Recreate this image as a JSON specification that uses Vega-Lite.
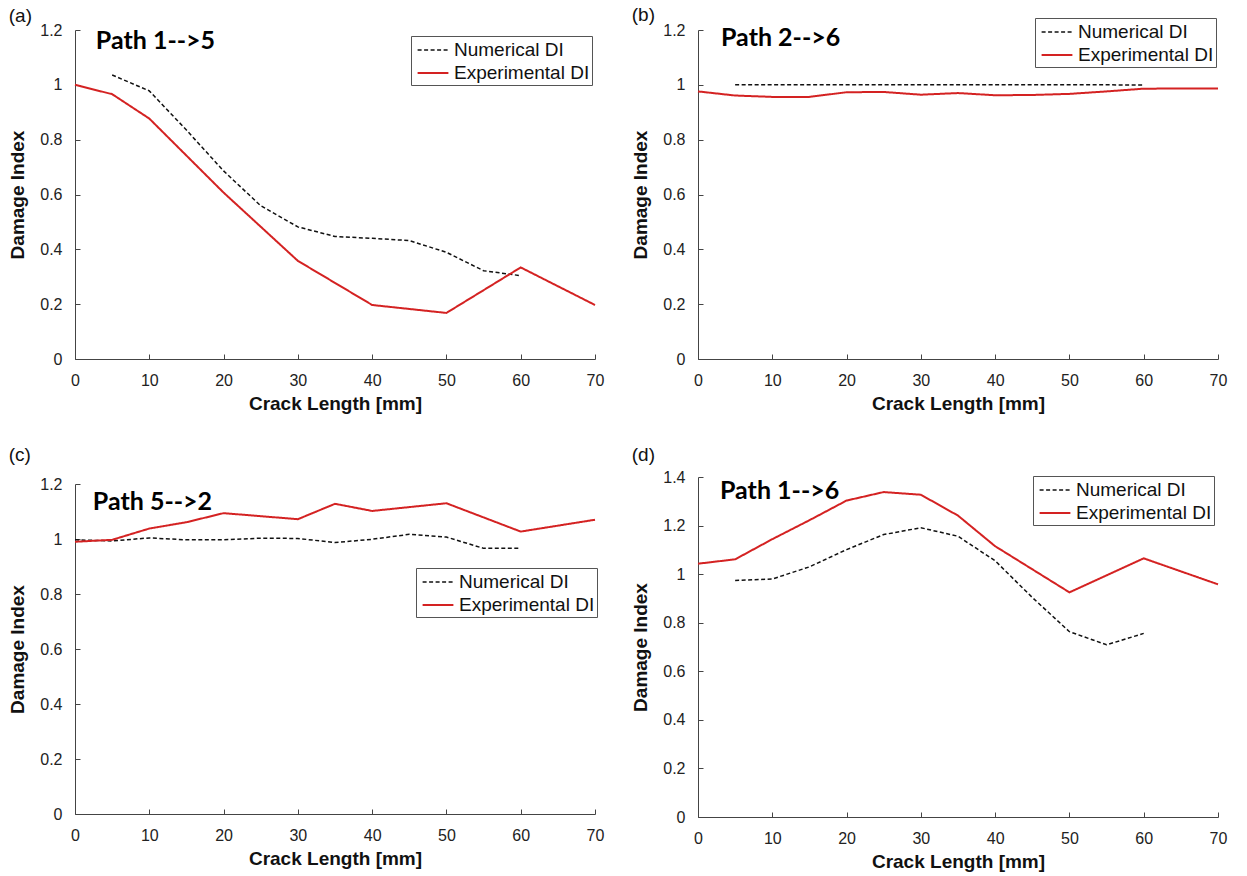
{
  "$schema": "https://vega.github.io/schema/vega-lite/v6.json",
  "padding": {"left": 8, "top": 5, "right": 5, "bottom": 3},
  "background": "white",
  "config": {
    "view": {"stroke": null},
    "axis": {
      "grid": false,
      "domainColor": "#444",
      "tickColor": "#444",
      "labelColor": "#222",
      "labelFont": "Liberation Sans",
      "labelFontSize": 16,
      "titleFont": "Liberation Sans",
      "titleFontWeight": "bold",
      "titleColor": "#111",
      "tickSize": -5,
      "labelFlush": false
    },
    "axisX": {"labelPadding": 18, "titlePadding": 6, "titleFontSize": 19},
    "axisY": {"labelPadding": 18, "titlePadding": 12, "titleFontSize": 19},
    "legend": {
      "symbolType": "M-1.4,0H1.4",
      "symbolSize": 484,
      "symbolOffset": 8,
      "symbolStrokeWidth": 1.6,
      "labelFont": "Liberation Sans",
      "labelFontSize": 19,
      "labelColor": "#111",
      "labelOffset": 9,
      "rowPadding": 1,
      "padding": 2,
      "strokeColor": "#555",
      "fillColor": "white",
      "title": null,
      "labelLimit": 300
    },
    "title": {"font": "Liberation Sans", "fontSize": 19, "fontWeight": "normal", "color": "#111", "anchor": "start", "frame": "bounds"}
  },
  "datasets": {
    "a": [
      {"series": "Numerical DI", "x": 5, "y": 1.036},
      {"series": "Numerical DI", "x": 10, "y": 0.978},
      {"series": "Numerical DI", "x": 15, "y": 0.835},
      {"series": "Numerical DI", "x": 20, "y": 0.686},
      {"series": "Numerical DI", "x": 25, "y": 0.559},
      {"series": "Numerical DI", "x": 30, "y": 0.482},
      {"series": "Numerical DI", "x": 35, "y": 0.447},
      {"series": "Numerical DI", "x": 40, "y": 0.44},
      {"series": "Numerical DI", "x": 45, "y": 0.432},
      {"series": "Numerical DI", "x": 50, "y": 0.389},
      {"series": "Numerical DI", "x": 55, "y": 0.322},
      {"series": "Numerical DI", "x": 60, "y": 0.304},
      {"series": "Experimental DI", "x": 0, "y": 1.0},
      {"series": "Experimental DI", "x": 5, "y": 0.966},
      {"series": "Experimental DI", "x": 10, "y": 0.877},
      {"series": "Experimental DI", "x": 20, "y": 0.607},
      {"series": "Experimental DI", "x": 30, "y": 0.358},
      {"series": "Experimental DI", "x": 40, "y": 0.197},
      {"series": "Experimental DI", "x": 50, "y": 0.168},
      {"series": "Experimental DI", "x": 60, "y": 0.334},
      {"series": "Experimental DI", "x": 70, "y": 0.197}
    ],
    "b": [
      {"series": "Numerical DI", "x": 5, "y": 1.0},
      {"series": "Numerical DI", "x": 10, "y": 1.0},
      {"series": "Numerical DI", "x": 15, "y": 1.0},
      {"series": "Numerical DI", "x": 20, "y": 1.0},
      {"series": "Numerical DI", "x": 25, "y": 1.0},
      {"series": "Numerical DI", "x": 30, "y": 1.0},
      {"series": "Numerical DI", "x": 35, "y": 1.0},
      {"series": "Numerical DI", "x": 40, "y": 1.0},
      {"series": "Numerical DI", "x": 45, "y": 1.0},
      {"series": "Numerical DI", "x": 50, "y": 1.0},
      {"series": "Numerical DI", "x": 55, "y": 1.0},
      {"series": "Numerical DI", "x": 60, "y": 0.999},
      {"series": "Experimental DI", "x": 0, "y": 0.976},
      {"series": "Experimental DI", "x": 5, "y": 0.961},
      {"series": "Experimental DI", "x": 10, "y": 0.956},
      {"series": "Experimental DI", "x": 15, "y": 0.956},
      {"series": "Experimental DI", "x": 20, "y": 0.973},
      {"series": "Experimental DI", "x": 25, "y": 0.974},
      {"series": "Experimental DI", "x": 30, "y": 0.964},
      {"series": "Experimental DI", "x": 35, "y": 0.97},
      {"series": "Experimental DI", "x": 40, "y": 0.962},
      {"series": "Experimental DI", "x": 45, "y": 0.963},
      {"series": "Experimental DI", "x": 50, "y": 0.967},
      {"series": "Experimental DI", "x": 55, "y": 0.976},
      {"series": "Experimental DI", "x": 60, "y": 0.986},
      {"series": "Experimental DI", "x": 70, "y": 0.987}
    ],
    "c": [
      {"series": "Numerical DI", "x": 0, "y": 0.997},
      {"series": "Numerical DI", "x": 5, "y": 0.993},
      {"series": "Numerical DI", "x": 10, "y": 1.004},
      {"series": "Numerical DI", "x": 15, "y": 0.997},
      {"series": "Numerical DI", "x": 20, "y": 0.997},
      {"series": "Numerical DI", "x": 25, "y": 1.003},
      {"series": "Numerical DI", "x": 30, "y": 1.002},
      {"series": "Numerical DI", "x": 35, "y": 0.987},
      {"series": "Numerical DI", "x": 40, "y": 0.999},
      {"series": "Numerical DI", "x": 45, "y": 1.017},
      {"series": "Numerical DI", "x": 50, "y": 1.007},
      {"series": "Numerical DI", "x": 55, "y": 0.966},
      {"series": "Numerical DI", "x": 60, "y": 0.966},
      {"series": "Experimental DI", "x": 0, "y": 0.99},
      {"series": "Experimental DI", "x": 5, "y": 0.997},
      {"series": "Experimental DI", "x": 10, "y": 1.038},
      {"series": "Experimental DI", "x": 15, "y": 1.061},
      {"series": "Experimental DI", "x": 20, "y": 1.094},
      {"series": "Experimental DI", "x": 30, "y": 1.072},
      {"series": "Experimental DI", "x": 35, "y": 1.128},
      {"series": "Experimental DI", "x": 40, "y": 1.102},
      {"series": "Experimental DI", "x": 50, "y": 1.13},
      {"series": "Experimental DI", "x": 60, "y": 1.027},
      {"series": "Experimental DI", "x": 70, "y": 1.07}
    ],
    "d": [
      {"series": "Numerical DI", "x": 5, "y": 0.974},
      {"series": "Numerical DI", "x": 10, "y": 0.98},
      {"series": "Numerical DI", "x": 15, "y": 1.03},
      {"series": "Numerical DI", "x": 20, "y": 1.101},
      {"series": "Numerical DI", "x": 25, "y": 1.163},
      {"series": "Numerical DI", "x": 30, "y": 1.191},
      {"series": "Numerical DI", "x": 35, "y": 1.156},
      {"series": "Numerical DI", "x": 40, "y": 1.055},
      {"series": "Numerical DI", "x": 45, "y": 0.904},
      {"series": "Numerical DI", "x": 50, "y": 0.763},
      {"series": "Numerical DI", "x": 55, "y": 0.709},
      {"series": "Numerical DI", "x": 60, "y": 0.756},
      {"series": "Experimental DI", "x": 0, "y": 1.043},
      {"series": "Experimental DI", "x": 5, "y": 1.061},
      {"series": "Experimental DI", "x": 10, "y": 1.144},
      {"series": "Experimental DI", "x": 15, "y": 1.222},
      {"series": "Experimental DI", "x": 20, "y": 1.303},
      {"series": "Experimental DI", "x": 25, "y": 1.338},
      {"series": "Experimental DI", "x": 30, "y": 1.327},
      {"series": "Experimental DI", "x": 35, "y": 1.241},
      {"series": "Experimental DI", "x": 40, "y": 1.115},
      {"series": "Experimental DI", "x": 50, "y": 0.925},
      {"series": "Experimental DI", "x": 60, "y": 1.065},
      {"series": "Experimental DI", "x": 70, "y": 0.958}
    ]
  },
  "resolve": {"scale": {"x": "independent", "y": "independent", "color": "independent", "strokeDash": "independent", "strokeWidth": "independent"}, "legend": {"color": "independent", "strokeDash": "independent"}},
  "spacing": 33,
  "vconcat": [
    {
      "spacing": 27,
      "resolve": {"scale": {"x": "independent", "y": "independent", "color": "independent", "strokeDash": "independent", "strokeWidth": "independent"}, "legend": {"color": "independent", "strokeDash": "independent"}},
      "hconcat": [
        {
          "title": {"text": "(a)", "offset": -4},
          "width": 520, "height": 329,
          "layer": [
            {
              "data": {"name": "a"},
              "mark": {"type": "line", "clip": false},
              "encoding": {
                "x": {"field": "x", "type": "quantitative", "scale": {"domain": [0, 70], "nice": false}, "axis": {"values": [0,10,20,30,40,50,60,70], "title": "Crack Length [mm]"}},
                "y": {"field": "y", "type": "quantitative", "scale": {"domain": [0, 1.2], "nice": false}, "axis": {"values": [0,0.2,0.4,0.6,0.8,1,1.2], "format": "~g", "title": "Damage Index"}},
                "color": {"field": "series", "type": "nominal", "scale": {"domain": ["Numerical DI", "Experimental DI"], "range": ["#111111", "#d42222"]}, "legend": {"orient": "none", "legendX": 336, "legendY": 6}},
                "strokeDash": {"field": "series", "type": "nominal", "scale": {"domain": ["Numerical DI", "Experimental DI"], "range": [[4, 2.5], [1, 0]]}, "legend": {"orient": "none", "legendX": 336, "legendY": 6}},
                "strokeWidth": {"field": "series", "type": "nominal", "scale": {"domain": ["Numerical DI", "Experimental DI"], "range": [1.5, 2]}, "legend": null}
              }
            },
            {
              "data": {"values": [{"label": "Path 1-->5"}]},
              "mark": {"type": "text", "font": "Lato", "fontWeight": "bold", "fontSize": 25, "align": "left", "baseline": "middle", "color": "#000"},
              "encoding": {"x": {"datum": 2.8}, "y": {"datum": 1.16}, "text": {"field": "label"}}
            }
          ]
        },
        {
          "title": {"text": "(b)", "offset": -7},
          "width": 520, "height": 329,
          "layer": [
            {
              "data": {"name": "b"},
              "mark": {"type": "line", "clip": false},
              "encoding": {
                "x": {"field": "x", "type": "quantitative", "scale": {"domain": [0, 70], "nice": false}, "axis": {"values": [0,10,20,30,40,50,60,70], "title": "Crack Length [mm]"}},
                "y": {"field": "y", "type": "quantitative", "scale": {"domain": [0, 1.2], "nice": false}, "axis": {"values": [0,0.2,0.4,0.6,0.8,1,1.2], "format": "~g", "title": "Damage Index"}},
                "color": {"field": "series", "type": "nominal", "scale": {"domain": ["Numerical DI", "Experimental DI"], "range": ["#111111", "#d42222"]}, "legend": {"orient": "none", "legendX": 337, "legendY": -12}},
                "strokeDash": {"field": "series", "type": "nominal", "scale": {"domain": ["Numerical DI", "Experimental DI"], "range": [[4, 2.5], [1, 0]]}, "legend": {"orient": "none", "legendX": 337, "legendY": -12}},
                "strokeWidth": {"field": "series", "type": "nominal", "scale": {"domain": ["Numerical DI", "Experimental DI"], "range": [1.5, 2]}, "legend": null}
              }
            },
            {
              "data": {"values": [{"label": "Path 2-->6"}]},
              "mark": {"type": "text", "font": "Lato", "fontWeight": "bold", "fontSize": 25, "align": "left", "baseline": "middle", "color": "#000"},
              "encoding": {"x": {"datum": 3.1}, "y": {"datum": 1.17}, "text": {"field": "label"}}
            }
          ]
        }
      ]
    },
    {
      "spacing": 27,
      "resolve": {"scale": {"x": "independent", "y": "independent", "color": "independent", "strokeDash": "independent", "strokeWidth": "independent"}, "legend": {"color": "independent", "strokeDash": "independent"}},
      "hconcat": [
        {
          "title": {"text": "(c)", "offset": 11},
          "width": 520, "height": 340,
          "layer": [
            {
              "data": {"name": "c"},
              "mark": {"type": "line", "clip": false},
              "encoding": {
                "x": {"field": "x", "type": "quantitative", "scale": {"domain": [0, 70], "nice": false}, "axis": {"values": [0,10,20,30,40,50,60,70], "title": "Crack Length [mm]", "offset": -3}},
                "y": {"field": "y", "type": "quantitative", "scale": {"domain": [0, 1.2], "nice": false, "range": [337, 7]}, "axis": {"values": [0,0.2,0.4,0.6,0.8,1,1.2], "format": "~g", "title": "Damage Index"}},
                "color": {"field": "series", "type": "nominal", "scale": {"domain": ["Numerical DI", "Experimental DI"], "range": ["#111111", "#d42222"]}, "legend": {"orient": "none", "legendX": 341, "legendY": 91}},
                "strokeDash": {"field": "series", "type": "nominal", "scale": {"domain": ["Numerical DI", "Experimental DI"], "range": [[4, 2.5], [1, 0]]}, "legend": {"orient": "none", "legendX": 341, "legendY": 91}},
                "strokeWidth": {"field": "series", "type": "nominal", "scale": {"domain": ["Numerical DI", "Experimental DI"], "range": [1.5, 2]}, "legend": null}
              }
            },
            {
              "data": {"values": [{"label": "Path 5-->2"}]},
              "mark": {"type": "text", "font": "Lato", "fontWeight": "bold", "fontSize": 25, "align": "left", "baseline": "middle", "color": "#000"},
              "encoding": {"x": {"datum": 2.4}, "y": {"datum": 1.135}, "text": {"field": "label"}}
            }
          ]
        },
        {
          "title": {"text": "(d)", "offset": 4},
          "width": 520, "height": 340,
          "layer": [
            {
              "data": {"name": "d"},
              "mark": {"type": "line", "clip": false},
              "encoding": {
                "x": {"field": "x", "type": "quantitative", "scale": {"domain": [0, 70], "nice": false}, "axis": {"values": [0,10,20,30,40,50,60,70], "title": "Crack Length [mm]"}},
                "y": {"field": "y", "type": "quantitative", "scale": {"domain": [0, 1.4], "nice": false}, "axis": {"values": [0,0.2,0.4,0.6,0.8,1,1.2,1.4], "format": "~g", "title": "Damage Index"}},
                "color": {"field": "series", "type": "nominal", "scale": {"domain": ["Numerical DI", "Experimental DI"], "range": ["#111111", "#d42222"]}, "legend": {"orient": "none", "legendX": 335, "legendY": -1}},
                "strokeDash": {"field": "series", "type": "nominal", "scale": {"domain": ["Numerical DI", "Experimental DI"], "range": [[4, 2.5], [1, 0]]}, "legend": {"orient": "none", "legendX": 335, "legendY": -1}},
                "strokeWidth": {"field": "series", "type": "nominal", "scale": {"domain": ["Numerical DI", "Experimental DI"], "range": [1.5, 2]}, "legend": null}
              }
            },
            {
              "data": {"values": [{"label": "Path 1-->6"}]},
              "mark": {"type": "text", "font": "Lato", "fontWeight": "bold", "fontSize": 25, "align": "left", "baseline": "middle", "color": "#000"},
              "encoding": {"x": {"datum": 2.96}, "y": {"datum": 1.342}, "text": {"field": "label"}}
            }
          ]
        }
      ]
    }
  ]
}
